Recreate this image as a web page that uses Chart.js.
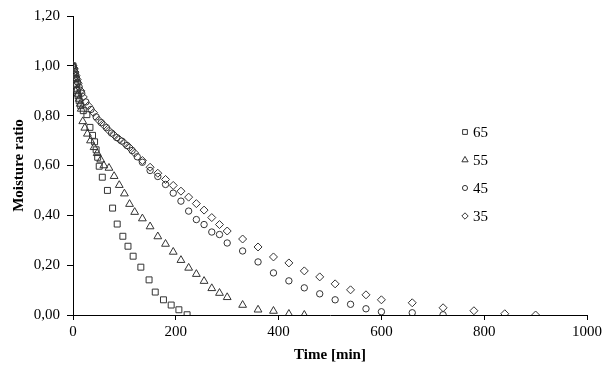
<!DOCTYPE html>
<html>
<head>
<meta charset="utf-8">
<script src="https://cdn.jsdelivr.net/npm/chart.js@4"></script>
<style>
  html, body { margin: 0; padding: 0; background: #fff; }
  #wrap { width: 607px; height: 372px; }
</style>
</head>
<body>
<div id="wrap"><canvas id="dryingChart" width="607" height="372"></canvas></div>
<script>
// 시간(min)과 수분비 데이터 - 온도별
const time65 = [0, 2, 4, 6, 8, 10, 12, 15, 20, 27, 33, 38, 42, 45, 48, 51, 57, 67, 77, 86, 97, 107, 117, 132, 148, 160, 176, 191, 206, 222];
const mr65 = [1.0, 0.975, 0.95, 0.925, 0.9, 0.88, 0.86, 0.84, 0.82, 0.804, 0.753, 0.721, 0.695, 0.663, 0.633, 0.597, 0.553, 0.50, 0.429, 0.365, 0.316, 0.276, 0.236, 0.192, 0.141, 0.092, 0.061, 0.04, 0.021, 0.001];

const time55 = [0, 2, 4, 6, 8, 10, 12, 14, 16, 19, 23, 28, 34, 41, 47, 54, 60, 70, 80, 90, 100, 110, 120, 135, 150, 165, 180, 195, 210, 225, 240, 255, 270, 285, 300, 330, 360, 390, 420, 450];
const mr55 = [1.0, 0.967, 0.947, 0.927, 0.907, 0.887, 0.867, 0.847, 0.827, 0.777, 0.751, 0.727, 0.70, 0.673, 0.649, 0.623, 0.60, 0.59, 0.557, 0.521, 0.487, 0.445, 0.413, 0.387, 0.355, 0.315, 0.285, 0.253, 0.22, 0.189, 0.164, 0.136, 0.107, 0.088, 0.071, 0.04, 0.021, 0.016, 0.004, 0.0];

const time45 = [0, 3, 5, 7, 9, 12, 17, 25, 35, 45, 55, 65, 75, 85, 95, 105, 115, 125, 135, 150, 165, 180, 195, 210, 225, 240, 255, 270, 285, 300, 330, 360, 390, 420, 450, 480, 510, 540, 570, 600, 660, 720];
const mr45 = [1.0, 0.985, 0.965, 0.95, 0.935, 0.915, 0.89, 0.855, 0.825, 0.795, 0.772, 0.752, 0.73, 0.712, 0.698, 0.68, 0.66, 0.635, 0.613, 0.58, 0.556, 0.524, 0.489, 0.457, 0.417, 0.383, 0.363, 0.333, 0.323, 0.289, 0.257, 0.213, 0.169, 0.137, 0.109, 0.085, 0.061, 0.043, 0.025, 0.013, 0.009, 0.001];

const time35 = [0, 2, 4, 6, 8, 10, 15, 20, 30, 40, 50, 60, 70, 80, 90, 100, 110, 120, 135, 150, 165, 180, 195, 210, 225, 240, 255, 270, 285, 300, 330, 360, 390, 420, 450, 480, 510, 540, 570, 600, 660, 720, 780, 840, 900];
const mr35 = [1.0, 0.99, 0.975, 0.96, 0.945, 0.93, 0.9, 0.875, 0.84, 0.812, 0.782, 0.762, 0.74, 0.722, 0.705, 0.69, 0.672, 0.65, 0.62, 0.593, 0.569, 0.544, 0.52, 0.497, 0.473, 0.447, 0.421, 0.391, 0.363, 0.337, 0.305, 0.273, 0.233, 0.209, 0.177, 0.153, 0.125, 0.101, 0.081, 0.061, 0.049, 0.029, 0.017, 0.005, 0.0];

const seriesLabels = ['65', '55', '45', '35'];
const xTicks = [0, 200, 400, 600, 800, 1000];
const yTicks = [0, 0.2, 0.4, 0.6, 0.8, 1.0, 1.2];

const FONT = '"Liberation Serif", "Times New Roman", serif';
const INK = '#333333';

function pairUp(times, values) {
    return times.map((t, i) => ({ x: t, y: values[i] }));
}

// 범례를 그래프 안쪽에 직접 그리는 플러그인
const insideLegend = {
    id: 'insideLegend',
    afterDraw(chart) {
        const ctx = chart.ctx;
        const x0 = 465, yStart = 132, gap = 28;
        ctx.save();
        chart.data.datasets.forEach((ds, i) => {
            const y = yStart + i * gap;
            ctx.strokeStyle = INK;
            ctx.fillStyle = 'rgba(0,0,0,0)';
            ctx.lineWidth = 1;
            Chart.helpers.drawPoint(ctx, { pointStyle: ds.pointStyle, radius: ds.pointRadius * 0.8, borderWidth: 1 }, x0, y);
            ctx.fillStyle = '#000';
            ctx.font = '15px ' + FONT;
            ctx.textAlign = 'left';
            ctx.textBaseline = 'middle';
            ctx.fillText(ds.label, x0 + 8, y + 1);
        });
        ctx.restore();
    }
};

const styles = [
    { pointStyle: 'rect', pointRadius: 4.2 },
    { pointStyle: 'triangle', pointRadius: 4.5 },
    { pointStyle: 'circle', pointRadius: 3.2 },
    { pointStyle: 'rectRot', pointRadius: 4 }
];
const allData = [pairUp(time65, mr65), pairUp(time55, mr55), pairUp(time45, mr45), pairUp(time35, mr35)];

const datasets = allData.map((d, i) => ({
    label: seriesLabels[i],
    data: d,
    showLine: false,
    pointStyle: styles[i].pointStyle,
    pointRadius: styles[i].pointRadius,
    pointHoverRadius: styles[i].pointRadius,
    pointBorderWidth: 1,
    pointBorderColor: INK,
    pointBackgroundColor: 'rgba(255,255,255,0)'
}));

const ctx = document.getElementById('dryingChart').getContext('2d');
new Chart(ctx, {
    type: 'scatter',
    data: { datasets: datasets },
    options: {
        responsive: false,
        animation: false,
        layout: { padding: { left: 0, right: 20, top: 15, bottom: 0 } },
        plugins: {
            legend: { display: false },
            tooltip: { enabled: false }
        },
        scales: {
            x: {
                type: 'linear',
                min: 0,
                max: 1000,
                afterBuildTicks: scale => { scale.ticks = xTicks.map(v => ({ value: v })); },
                afterFit: scale => { scale.height = 57; },
                grid: { drawOnChartArea: false, tickLength: 5, color: '#000' },
                border: { color: '#000', width: 1 },
                ticks: {
                    color: '#000',
                    padding: 3,
                    font: { family: FONT, size: 15 },
                    maxRotation: 0,
                    callback: v => String(v)
                },
                title: {
                    display: true,
                    text: 'Time [min]',
                    color: '#000',
                    font: { family: FONT, size: 15, weight: 'bold' },
                    padding: { top: 0, bottom: 8 }
                }
            },
            y: {
                type: 'linear',
                min: 0,
                max: 1.2,
                afterBuildTicks: scale => { scale.ticks = yTicks.map(v => ({ value: v })); },
                afterFit: scale => { scale.width = 73; },
                grid: { drawOnChartArea: false, tickLength: 6, color: '#000' },
                border: { color: '#000', width: 1 },
                ticks: {
                    color: '#000',
                    padding: 7,
                    font: { family: FONT, size: 15 },
                    callback: v => v.toFixed(2).replace('.', ',')
                },
                title: {
                    display: true,
                    text: 'Moisture ratio',
                    color: '#000',
                    font: { family: FONT, size: 15, weight: 'bold' },
                    padding: { top: 10, bottom: 4 }
                }
            }
        }
    },
    plugins: [insideLegend]
});
</script>
</body>
</html>
